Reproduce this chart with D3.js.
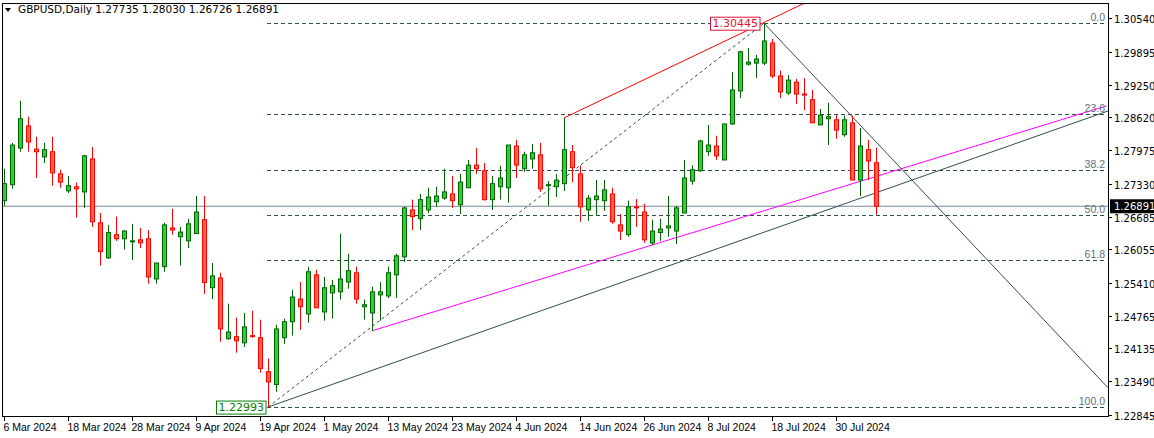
<!DOCTYPE html>
<html><head><meta charset="utf-8">
<script src="https://cdn.jsdelivr.net/npm/d3@7"></script>
<style>body{margin:0;background:#fff;}svg{display:block;font-family:"DejaVu Sans",sans-serif;}</style>
</head><body><svg id="c" width="1154" height="438"></svg>
<script>
const opens=[1.2700,1.2731,1.2802,1.2845,1.2800,1.2785,1.2795,1.2752,1.2719,1.2727,1.2717,1.2781,1.2657,1.2589,1.2634,1.2626,1.2620,1.2624,1.2626,1.2548,1.2572,1.2647,1.2630,1.2622,1.2636,1.2663,1.2531,1.2550,1.2432,1.2436,1.2424,1.2438,1.2434,1.2368,1.2343,1.2434,1.2465,1.2509,1.2480,1.2556,1.2484,1.2521,1.2523,1.2542,1.2560,1.2494,1.2482,1.2517,1.2515,1.2556,1.2591,1.2682,1.2665,1.2682,1.2698,1.2705,1.2713,1.2692,1.2725,1.2769,1.2758,1.2702,1.2727,1.2725,1.2806,1.2762,1.2781,1.2789,1.2729,1.2727,1.2733,1.2795,1.2752,1.2682,1.2702,1.2700,1.2713,1.2653,1.2634,1.2688,1.2678,1.2618,1.2638,1.2647,1.2641,1.2676,1.2738,1.2758,1.2795,1.2806,1.2779,1.2849,1.2913,1.2965,1.2967,1.2967,1.3006,1.2942,1.2909,1.2930,1.2907,1.2896,1.2847,1.2859,1.2857,1.2828,1.2851,1.2740,1.2799,1.27735];
const highs=[1.2762,1.2812,1.2894,1.2863,1.2824,1.2812,1.2824,1.2760,1.2748,1.2735,1.2789,1.2804,1.2676,1.2653,1.2669,1.2643,1.2655,1.2647,1.2643,1.2579,1.2657,1.2684,1.2649,1.2665,1.2709,1.2709,1.2579,1.2560,1.2500,1.2473,1.2482,1.2486,1.2469,1.2393,1.2459,1.2471,1.2527,1.2542,1.2572,1.2566,1.2552,1.2546,1.2636,1.2597,1.2572,1.2508,1.2533,1.2542,1.2572,1.2597,1.2688,1.2702,1.2713,1.2725,1.2727,1.2762,1.2748,1.2752,1.2779,1.2802,1.2773,1.2748,1.2768,1.2808,1.2818,1.2795,1.2810,1.2812,1.2738,1.2752,1.2861,1.2808,1.2768,1.2711,1.2740,1.2740,1.2725,1.2674,1.2700,1.2703,1.2694,1.2663,1.2665,1.2709,1.2690,1.2779,1.2769,1.2818,1.2847,1.2826,1.2849,1.2950,1.2991,1.2996,1.2983,1.30445,1.3014,1.2952,1.2944,1.2936,1.2938,1.2915,1.2878,1.2890,1.2866,1.2865,1.2865,1.2841,1.2818,1.28030];
const lows=[1.2690,1.2723,1.2795,1.2795,1.2744,1.2773,1.2729,1.2725,1.2715,1.2667,1.2686,1.2649,1.2574,1.2587,1.2622,1.2605,1.2585,1.2608,1.2539,1.2539,1.2562,1.2634,1.2574,1.2608,1.2636,1.2519,1.2509,1.2426,1.2430,1.2405,1.2416,1.2434,1.2366,1.22993,1.2329,1.2422,1.2438,1.2449,1.2463,1.2492,1.2467,1.2471,1.2508,1.2529,1.2500,1.2469,1.2447,1.2467,1.2511,1.2511,1.2581,1.2643,1.2643,1.2676,1.2688,1.2702,1.2686,1.2674,1.2725,1.2752,1.2700,1.2682,1.2702,1.2696,1.2744,1.2756,1.2762,1.2717,1.2690,1.2707,1.2719,1.2736,1.2659,1.2661,1.2671,1.2680,1.2655,1.2624,1.2630,1.2649,1.2618,1.2614,1.2622,1.2630,1.2616,1.2676,1.2731,1.2756,1.2787,1.2779,1.2779,1.2847,1.2899,1.2962,1.2938,1.2963,1.2938,1.2899,1.2905,1.2888,1.2876,1.2851,1.2847,1.2808,1.2820,1.2824,1.2740,1.2709,1.2740,1.26726];
const closes=[1.2733,1.2808,1.2859,1.2814,1.2795,1.2799,1.2754,1.2736,1.2729,1.2723,1.2787,1.2659,1.2601,1.2638,1.2626,1.2641,1.2622,1.2618,1.2552,1.2579,1.2653,1.2643,1.2639,1.2655,1.2678,1.2541,1.2554,1.2451,1.2445,1.2428,1.2455,1.2436,1.2374,1.2348,1.2451,1.2465,1.2513,1.2494,1.2562,1.2492,1.2531,1.2535,1.2548,1.2564,1.2509,1.2498,1.2523,1.2523,1.2560,1.2593,1.2686,1.2669,1.2702,1.2707,1.2709,1.2717,1.2700,1.2736,1.2769,1.2762,1.2702,1.2733,1.2744,1.2808,1.2769,1.2789,1.2793,1.2723,1.2731,1.2740,1.2799,1.2764,1.2688,1.2705,1.2709,1.2721,1.2659,1.2641,1.2688,1.2686,1.2624,1.2641,1.2645,1.2651,1.2686,1.2744,1.2760,1.2816,1.2808,1.2787,1.2849,1.2915,1.2989,1.2969,1.2975,1.3010,1.2942,1.2911,1.2934,1.2907,1.2905,1.2851,1.2866,1.2863,1.2837,1.2857,1.2740,1.2806,1.2777,1.26891];
const dateLabels=[[0,"6 Mar 2024"],[8,"18 Mar 2024"],[16,"28 Mar 2024"],[24,"9 Apr 2024"],[32,"19 Apr 2024"],[40,"1 May 2024"],[48,"13 May 2024"],[56,"23 May 2024"],[64,"4 Jun 2024"],[72,"14 Jun 2024"],[80,"26 Jun 2024"],[88,"8 Jul 2024"],[96,"18 Jul 2024"],[104,"30 Jul 2024"]];
const priceTicks=[1.30540,1.29895,1.29250,1.28620,1.27975,1.27330,1.26685,1.26055,1.25410,1.24765,1.24135,1.23490,1.22845];
const fibLow=1.22993, fibHigh=1.30445, fibLowIdx=33, fibHighIdx=95;
const fibLevels=[0,23.6,38.2,50.0,61.8,100.0];
const lastPrice=1.26891;
const trendBlack=[[33,1.22993],[138,1.28741]];
const trendMagenta=[[46,1.24474],[137.8,1.28839]];
const trendRed=[[70,1.28606],[100.1,1.30837]];
const trendDown=[[95,1.30445],[138,1.23368]];
const title="GBPUSD,Daily  1.27735 1.28030 1.26726 1.26891";

const svg=d3.select("#c");
const L=2,R=1108,T=3,B=416;
const x=d3.scaleLinear().domain([0,109]).range([4,876]);
const y=d3.scaleLinear().domain([1.22845,1.30540]).range([414.7,18.3]);
svg.append("defs").append("clipPath").attr("id","cl").append("rect").attr("x",L).attr("y",T).attr("width",R-L).attr("height",B-T);
const g=svg.append("g").attr("clip-path","url(#cl)");
g.append("line").attr("x1",L).attr("x2",R).attr("y1",y(lastPrice)).attr("y2",y(lastPrice)).attr("stroke","#778899").attr("stroke-width",1);
fibLevels.forEach(l=>{const p=fibHigh-(fibHigh-fibLow)*l/100;
 g.append("line").attr("x1",x(fibLowIdx)-1).attr("x2",R-3).attr("y1",Math.round(y(p))+.5).attr("y2",Math.round(y(p))+.5).attr("stroke","#2f4f4f").attr("stroke-dasharray","4,3");
 svg.append("text").attr("x",R-3).attr("y",Math.round(y(p))-2).attr("text-anchor","end").attr("font-family","Liberation Sans").attr("font-size",10.5).attr("fill","#5f7080").text(l.toFixed(1));});
g.append("line").attr("x1",x(fibLowIdx)).attr("y1",y(fibLow)).attr("x2",x(fibHighIdx)).attr("y2",y(fibHigh)).attr("stroke","#2f4f4f").attr("stroke-dasharray","3,3");
const ln=(pts,c)=>g.append("line").attr("x1",x(pts[0][0])).attr("y1",y(pts[0][1])).attr("x2",x(pts[1][0])).attr("y2",y(pts[1][1])).attr("stroke",c).attr("stroke-width",1);
ln(trendBlack,"#2f4f4f");ln(trendMagenta,"#ff00ff");ln(trendRed,"#ff0000");ln(trendDown,"#2f4f4f");
opens.forEach((o,i)=>{const c=closes[i],up=c>=o,col=up?"#006400":"#ff0000",fill=up?"#32cd32":"#ff6347";
 const cx=Math.round(x(i))+.5;
 g.append("line").attr("x1",cx).attr("x2",cx).attr("y1",y(highs[i])).attr("y2",y(lows[i])).attr("stroke",col);
 const y1=y(Math.max(o,c)),y2=y(Math.min(o,c));
 g.append("rect").attr("x",cx-2).attr("y",y1).attr("width",4).attr("height",Math.max(1,y2-y1)).attr("fill",fill).attr("stroke",col);});
function tag(idx,p,txt,col,dx,dy){const t=svg.append("text").attr("font-size",11).attr("fill",col).attr("x",x(idx)+dx).attr("y",y(p)+dy).attr("text-anchor","end").text(txt);
 const b=t.node().getBBox();svg.insert("rect","text").attr("x",b.x-2).attr("y",b.y).attr("width",b.width+4).attr("height",b.height).attr("fill","#fff").attr("stroke",col);}
tag(fibLowIdx,fibLow,"1.22993","#008000",-4,4);
tag(fibHighIdx,fibHigh,"1.30445","#dc143c",-6,4);
svg.selectAll("text").raise();
svg.append("rect").attr("x",L+.5).attr("y",T+.5).attr("width",R-L).attr("height",B-T).attr("fill","none").attr("stroke","#000");
const ra=svg.append("g");
priceTicks.forEach(p=>{const yy=Math.round(y(p))+.5;ra.append("line").attr("x1",R).attr("x2",R+4).attr("y1",yy).attr("y2",yy).attr("stroke","#000");
 ra.append("text").attr("x",R+6).attr("y",yy+4).attr("font-size",10).attr("fill","#000").text(p.toFixed(5));});
const ly=y(lastPrice);
ra.append("rect").attr("x",R+2).attr("y",ly-7).attr("width",44).attr("height",14).attr("fill","#000");
ra.append("text").attr("x",R+6).attr("y",ly+4).attr("font-size",10).attr("fill","#fff").text(lastPrice.toFixed(5));
dateLabels.forEach(([i,s])=>{const xx=Math.round(x(i))+.5;svg.append("line").attr("x1",xx).attr("x2",xx).attr("y1",B).attr("y2",B+5).attr("stroke","#000");
 svg.append("text").attr("x",xx-1).attr("y",B+15).attr("font-family","Liberation Sans").attr("font-size",10.5).attr("fill","#000").text(s);});
svg.append("path").attr("d","M5,8 L11,8 L8,12 Z").attr("fill","#000");
svg.append("text").attr("x",18).attr("y",13).attr("font-size",10.5).attr("fill","#000").text(title);
</script></body></html>
